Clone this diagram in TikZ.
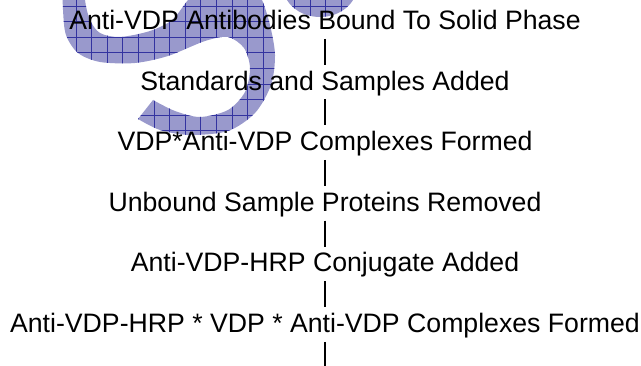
\documentclass[tikz,border=0pt]{standalone}
\usepackage{fontspec}
\setmainfont{Liberation Sans}
\usepackage{tikz}
\definecolor{sfill}{RGB}{153,153,204}
\definecolor{sgrid}{RGB}{51,51,160}

\begin{document}
\begin{tikzpicture}[x=0.75pt, y=-0.75pt,
	stage/.style={inner sep=0pt, text height=18.75pt, text depth=6.75pt, font=\fontsize{20}{24}\selectfont},
	link/.style={draw=black, line width=0.8pt},
	gridline/.style={draw=sgrid, line width=0.5pt}]
	\useasboundingbox (0,0) rectangle (641,366);
	\begin{scope}
		\clip (0,0) rectangle (641,366);
		\begin{scope}
			\clip plot[smooth] coordinates {(62,-30) (63,10) (66,35) (78,53) (100,62) (135,63) (168,56) (205,41) (228,37) (244,48) (250,68) (245,92) (228,110) (200,117) (175,111) (153,100)}
				-- plot[smooth] coordinates {(138,119) (160,130) (190,135) (228,131) (255,113) (271,85) (275,55) (270,25) (262,0) (250,-20) (220,-25) (200,-12) (188,0) (172,20) (150,31) (120,37) (100,33) (90,20) (85,0) (84,-30)}
				-- cycle;
			\fill[sfill] (0,-40) rectangle (400,160);
			\foreach \gk in {-1,...,19} \draw[gridline] ({76+15.6*\gk},-40) -- ({76+15.6*\gk},160);
			\foreach \gk in {-3,...,10} \draw[gridline] (40,{6+15.6*\gk}) -- (400,{6+15.6*\gk});
		\end{scope}
		\begin{scope}
			\clip (320,-14) ellipse [x radius=37, y radius=31];
			\fill[sfill] (270,-50) rectangle (370,30);
			\foreach \gk in {13,...,19} \draw[gridline] ({76+15.6*\gk},-40) -- ({76+15.6*\gk},40);
			\foreach \gk in {-3,...,1} \draw[gridline] (270,{6+15.6*\gk}) -- (370,{6+15.6*\gk});
		\end{scope}
	\end{scope}
	\node[stage] (node0) at (325,21.5) {Anti-VDP Antibodies Bound To Solid Phase};
	\node[stage] (node1) at (325,82.1) {Standards and Samples Added};
	\node[stage] (node2) at (325,142.7) {VDP*Anti-VDP Complexes Formed};
	\node[stage] (node3) at (325,203.3) {Unbound Sample Proteins Removed};
	\node[stage] (node4) at (325,263.9) {Anti-VDP-HRP Conjugate Added};
	\node[stage] (node5) at (325,324.5) {Anti-VDP-HRP * VDP * Anti-VDP Complexes Formed};
	\coordinate (node6) at (325,366);
	\draw[link] (node0) -- (node1);
	\draw[link] (node1) -- (node2);
	\draw[link] (node2) -- (node3);
	\draw[link] (node3) -- (node4);
	\draw[link] (node4) -- (node5);
	\draw[link] (node5) -- (node6);
\end{tikzpicture}
\end{document}
